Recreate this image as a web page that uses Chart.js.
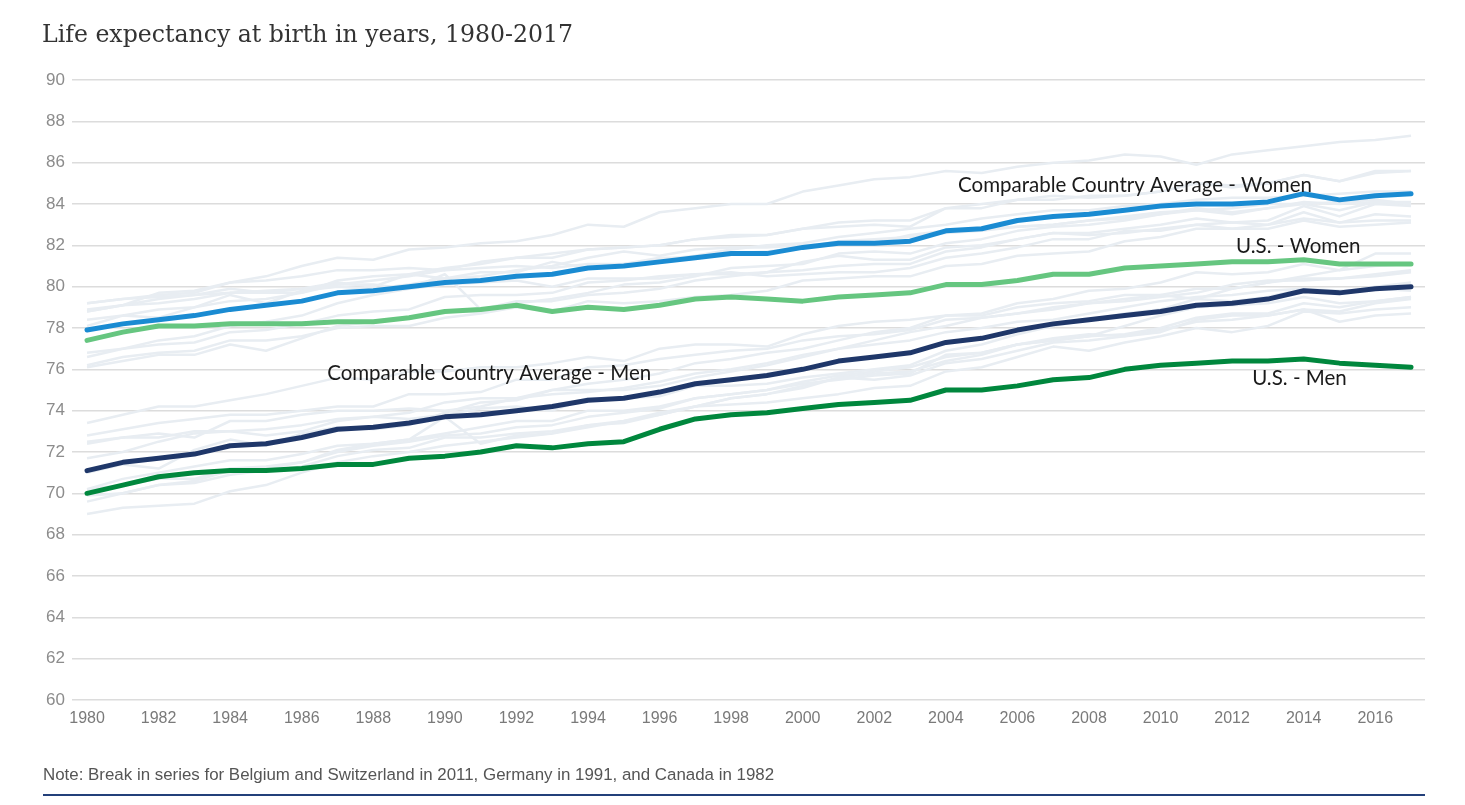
<!DOCTYPE html>
<html>
<head>
<meta charset="utf-8">
<script src="https://cdn.jsdelivr.net/npm/chart.js@4.4.1/dist/chart.umd.min.js"></script>
<style>
  html, body { margin: 0; padding: 0; background: #ffffff; }
  #wrap { position: relative; width: 1465px; height: 805px; overflow: hidden; }
  #chart { position: absolute; left: 0; top: 0; }
  #title { position: absolute; left: 42px; top: 20px; font-family: 'DejaVu Serif', serif; font-size: 23.6px; color: #333333; line-height: 1.2; white-space: nowrap; }
  #note { position: absolute; left: 43px; top: 765px; font-family: 'Liberation Sans', sans-serif; font-size: 16.9px; color: #555555; line-height: 1.2; white-space: nowrap; }
  #rule { position: absolute; left: 43px; top: 794px; width: 1382px; height: 2px; background: #23407a; }
</style>
</head>
<body>
<div id="wrap">
  <canvas id="chart" width="1465" height="805"></canvas>
  <div id="title">Life expectancy at birth in years, 1980-2017</div>
  <div id="note">Note: Break in series for Belgium and Switzerland in 2011, Germany in 1991, and Canada in 1982</div>
  <div id="rule"></div>
</div>
<script>
// ---- Data ----
const years = [1980,1981,1982,1983,1984,1985,1986,1987,1988,1989,1990,1991,1992,1993,1994,1995,1996,1997,1998,1999,2000,2001,2002,2003,2004,2005,2006,2007,2008,2009,2010,2011,2012,2013,2014,2015,2016,2017];
const xTickLabels = [1980,1982,1984,1986,1988,1990,1992,1994,1996,1998,2000,2002,2004,2006,2008,2010,2012,2014,2016];
const yTickLabels = [60,62,64,66,68,70,72,74,76,78,80,82,84,86,88,90];

const comparableWomen = [77.9,78.2,78.4,78.6,78.9, 79.1,79.3,79.7,79.8,80.0, 80.2,80.3,80.5,80.6,80.9, 81.0,81.2,81.4,81.6,81.6, 81.9,82.1,82.1,82.2,82.7, 82.8,83.2,83.4,83.5,83.7, 83.9,84.0,84.0,84.1,84.5, 84.2,84.4,84.5];
const usWomen = [77.4,77.8,78.1,78.1,78.2, 78.2,78.2,78.3,78.3,78.5, 78.8,78.9,79.1,78.8,79.0, 78.9,79.1,79.4,79.5,79.4, 79.3,79.5,79.6,79.7,80.1, 80.1,80.3,80.6,80.6,80.9, 81.0,81.1,81.2,81.2,81.3, 81.1,81.1,81.1];
const comparableMen = [71.1,71.5,71.7,71.9,72.3, 72.4,72.7,73.1,73.2,73.4, 73.7,73.8,74.0,74.2,74.5, 74.6,74.9,75.3,75.5,75.7, 76.0,76.4,76.6,76.8,77.3, 77.5,77.9,78.2,78.4,78.6, 78.8,79.1,79.2,79.4,79.8, 79.7,79.9,80.0];
const usMen = [70.0,70.4,70.8,71.0,71.1, 71.1,71.2,71.4,71.4,71.7, 71.8,72.0,72.3,72.2,72.4, 72.5,73.1,73.6,73.8,73.9, 74.1,74.3,74.4,74.5,75.0, 75.0,75.2,75.5,75.6,76.0, 76.2,76.3,76.4,76.4,76.5, 76.3,76.2,76.1];

// Individual comparable countries (background lines)
const japanWomen = [78.8,79.1,79.7,79.8,80.2, 80.5,81.0,81.4,81.3,81.8, 81.9,82.1,82.2,82.5,83.0, 82.9,83.6,83.8,84.0,84.0, 84.6,84.9,85.2,85.3,85.6, 85.5,85.8,86.0,86.1,86.4, 86.3,85.9,86.4,86.6,86.8, 87.0,87.1,87.3];
const franceWomen = [78.4,78.6,78.9,79.0,79.3, 79.4,79.7,80.3,80.5,80.6, 80.9,81.1,81.4,81.4,81.8, 81.9,82.0,82.3,82.4,82.5, 82.8,82.9,83.0,82.9,83.8, 83.8,84.2,84.4,84.3,84.4, 84.6,85.0,84.8,85.0,85.4, 85.1,85.5,85.6];
const switzerlandWomen = [79.2,79.4,79.6,79.7,80.2, 80.3,80.5,80.8,80.8,80.9, 80.8,81.2,81.4,81.6,81.8, 81.9,82.0,82.3,82.5,82.5, 82.8,83.1,83.2,83.2,83.8, 84.0,84.2,84.2,84.4,84.4, 84.6,85.0,84.9,85.0,85.4, 85.1,85.6,85.6];
const netherlandsWomen = [79.2,79.4,79.5,79.6,79.7, 79.7,79.7,80.1,80.1,79.9, 80.1,80.2,80.3,80.0,80.4, 80.4,80.4,80.6,80.7,80.5, 80.6,80.7,80.7,80.9,81.4, 81.6,81.9,82.3,82.3,82.7, 82.7,83.0,82.8,83.0,83.3, 83.1,83.2,83.2];
const swedenWomen = [78.8,79.1,79.4,79.6,79.9, 79.7,79.9,80.2,80.0,80.6, 80.4,80.5,80.8,81.0,81.4, 81.7,81.5,81.8,81.9,81.9, 82.0,82.1,82.1,82.5,82.7, 82.8,82.9,83.0,83.2,83.3, 83.5,83.7,83.5,83.8,84.1, 84.0,84.1,84.1];
const canadaWomen = [78.9,79.1,79.2,79.4,79.7, 79.8,79.9,80.1,80.3,80.5, 80.8,80.9,81.0,80.9,81.1, 81.1,81.4,81.4,81.6,81.7, 81.9,82.2,82.3,82.4,82.6, 82.7,82.9,83.0,83.2,83.4, 83.6,83.7,83.8,84.0,84.0, 84.1,84.2,84.0];
const australiaWomen = [78.1,78.6,78.5,79.0,79.6, 79.2,79.8,80.0,79.9,80.1, 80.4,80.7,80.7,81.2,80.9, 81.1,81.3,81.5,81.8,82.0, 82.1,82.4,82.6,82.8,83.0, 83.3,83.5,83.7,83.7,83.9, 84.0,84.2,84.3,84.3,84.4, 84.5,84.6,84.6];
const austriaWomen = [76.1,76.4,76.7,76.7,77.2, 76.9,77.5,78.1,78.3,78.5, 78.8,78.8,79.2,79.4,79.7, 80.1,80.2,80.5,80.9,81.0, 81.1,81.6,81.7,81.6,82.1, 82.3,82.7,82.9,83.0,83.2, 83.5,83.8,83.6,83.8,84.0, 83.7,84.1,84.0];
const belgiumWomen = [76.8,77.0,77.2,77.3,77.8, 77.9,78.2,78.6,78.8,78.9, 79.5,79.6,79.6,79.7,80.2, 80.3,80.5,80.6,80.6,80.7, 80.8,81.0,81.1,81.1,81.7, 81.9,82.3,82.6,82.6,82.8, 83.0,83.3,83.1,83.2,83.9, 83.4,84.0,83.9];
const germanyWomen = [76.6,77.0,77.4,77.6,78.1, 78.3,78.6,79.2,79.6,79.9, 80.6,78.9,79.3,79.3,79.6, 79.7,79.9,80.3,80.5,80.7, 81.2,81.5,81.3,81.3,81.9, 82.0,82.3,82.6,82.5,82.6, 82.8,83.0,83.1,83.0,83.6, 83.1,83.5,83.4];
const ukWomen = [76.2,76.6,76.8,76.9,77.4, 77.4,77.6,78.0,78.1,78.1, 78.5,78.7,79.0,78.8,79.3, 79.2,79.3,79.5,79.6,79.8, 80.3,80.4,80.5,80.5,81.0, 81.1,81.5,81.6,81.7,82.2, 82.4,82.8,82.8,82.8,83.2, 82.9,83.0,83.1];

const japanMen = [73.4,73.8,74.2,74.2,74.5, 74.8,75.2,75.6,75.5,75.9, 75.9,76.1,76.1,76.3,76.6, 76.4,77.0,77.2,77.2,77.1, 77.7,78.1,78.3,78.4,78.6, 78.6,79.0,79.2,79.3,79.6, 79.6,79.4,79.9,80.2,80.5, 80.8,81.0,81.1];
const swedenMen = [72.8,73.1,73.4,73.6,73.8, 73.8,74.0,74.2,74.2,74.8, 74.8,74.9,75.5,75.5,76.1, 76.2,76.5,76.7,76.9,77.0, 77.4,77.6,77.7,77.9,78.4, 78.5,78.7,78.9,79.2,79.4, 79.6,79.9,79.9,80.2,80.4, 80.4,80.6,80.8];
const switzerlandMen = [72.4,72.7,72.9,72.7,73.5, 73.5,73.8,74.0,74.0,74.1, 74.0,74.2,74.6,75.0,75.3, 75.5,75.8,76.3,76.5,76.8, 77.0,77.4,77.8,78.0,78.6, 78.7,79.2,79.4,79.8,79.9, 80.2,80.7,80.6,80.7,81.1, 80.8,81.6,81.6];
const netherlandsMen = [72.5,72.7,72.7,73.0,73.0, 72.8,73.0,73.5,73.7,73.6, 73.8,74.1,74.2,74.0,74.6, 74.6,74.7,75.2,75.2,75.3, 75.6,75.8,76.0,76.2,76.9, 77.2,77.7,78.1,78.4,78.7, 78.9,79.4,79.3,79.5,79.9, 79.7,80.0,80.2];
const canadaMen = [71.7,72.0,72.5,72.9,73.0, 73.1,73.3,73.6,73.7,73.9, 74.4,74.6,74.6,74.8,74.9, 75.1,75.4,75.8,76.0,76.3, 76.7,77.0,77.2,77.4,77.8, 78.0,78.3,78.4,78.7,79.0, 79.3,79.5,79.6,79.8,79.9, 79.8,79.9,79.8];
const australiaMen = [71.0,71.4,71.2,72.1,72.6, 72.3,72.9,73.2,73.1,73.3, 73.9,74.4,74.5,75.0,75.0, 75.0,75.2,75.6,75.9,76.2, 76.6,77.0,77.4,77.8,78.1, 78.5,78.7,79.0,79.2,79.3, 79.5,79.7,80.1,80.3,80.3, 80.4,80.5,80.7];
const franceMen = [70.2,70.4,70.7,70.7,71.2, 71.3,71.5,72.0,72.3,72.5, 72.8,72.9,73.2,73.3,73.7, 73.9,74.1,74.6,74.8,75.0, 75.3,75.5,75.7,75.8,76.7, 76.8,77.2,77.4,77.6,77.7, 78.0,78.5,78.7,78.7,79.2, 79.0,79.3,79.5];
const ukMen = [70.2,70.7,71.0,71.3,71.6, 71.6,71.9,72.3,72.4,72.6, 72.9,73.2,73.5,73.5,74.0, 74.0,74.2,74.6,74.8,75.0, 75.4,75.7,75.9,76.1,76.6, 76.8,77.2,77.4,77.6,78.1, 78.6,79.0,79.1,79.2,79.5, 79.2,79.3,79.5];
const austriaMen = [69.0,69.3,69.4,69.5,70.1, 70.4,71.0,71.5,71.8,72.0, 72.3,72.5,72.7,72.9,73.2, 73.5,73.9,74.2,74.6,74.8, 75.2,75.6,75.8,75.9,76.4, 76.7,77.2,77.5,77.7,77.6, 77.9,78.3,78.4,78.6,78.9, 78.8,79.2,79.4];
const belgiumMen = [69.9,70.0,70.4,70.5,70.9, 71.1,71.3,71.8,72.1,72.2, 72.7,72.7,72.9,73.0,73.3, 73.4,73.8,74.2,74.3,74.4, 74.6,74.8,75.1,75.2,75.9, 76.1,76.6,77.1,76.9,77.3, 77.6,78.0,77.8,78.1,78.8, 78.7,78.9,79.0];
const germanyMen = [69.6,70.0,70.4,70.6,71.1, 71.2,71.5,72.1,72.4,72.6, 73.7,72.4,72.8,72.9,73.3, 73.5,73.8,74.2,74.6,74.8, 75.1,75.6,75.5,75.7,76.3, 76.5,76.9,77.3,77.4,77.6, 77.8,78.4,78.6,78.6,78.9, 78.3,78.6,78.7];

const backgroundSeries = [
  japanWomen, franceWomen, switzerlandWomen, netherlandsWomen, swedenWomen, canadaWomen,
  australiaWomen, austriaWomen, belgiumWomen, germanyWomen, ukWomen,
  japanMen, swedenMen, switzerlandMen, netherlandsMen, canadaMen, australiaMen,
  franceMen, ukMen, austriaMen, belgiumMen, germanyMen
];

// ---- Chart ----
const toPoints = vals => years.map((y, i) => ({ x: y, y: vals[i] }));

const mainStyle = color => ({
  borderColor: color, backgroundColor: color, borderWidth: 5,
  pointRadius: 0, pointHoverRadius: 0, tension: 0,
  borderCapStyle: 'round', borderJoinStyle: 'round', fill: false
});

const datasets = [
  Object.assign({ label: 'Comparable Country Average - Women', data: toPoints(comparableWomen) }, mainStyle('#1a8bd2')),
  Object.assign({ label: 'U.S. - Women', data: toPoints(usWomen) }, mainStyle('#66c680')),
  Object.assign({ label: 'Comparable Country Average - Men', data: toPoints(comparableMen) }, mainStyle('#1f3769')),
  Object.assign({ label: 'U.S. - Men', data: toPoints(usMen) }, mainStyle('#00873d'))
];
backgroundSeries.forEach((vals, i) => {
  datasets.push({
    label: 'country ' + i, data: toPoints(vals),
    borderColor: '#e8edf2', borderWidth: 2.5, pointRadius: 0, pointHoverRadius: 0,
    tension: 0, fill: false, borderJoinStyle: 'round'
  });
});

const annotations = [
  { text: 'Comparable Country Average - Women', x: 2004.34, y: 84.92 },
  { text: 'U.S. - Women', x: 2012.11, y: 81.96 },
  { text: 'Comparable Country Average - Men', x: 1986.71, y: 75.82 },
  { text: 'U.S. - Men', x: 2012.56, y: 75.58 }
];

const labelPlugin = {
  id: 'seriesLabels',
  afterDatasetsDraw(chart) {
    const ctx = chart.ctx;
    const xs = chart.scales.x, ys = chart.scales.y;
    ctx.save();
    ctx.font = '20.5px Lato, "Open Sans", sans-serif';
    ctx.fillStyle = '#1a1a1a';
    ctx.textBaseline = 'middle';
    ctx.textAlign = 'left';
    annotations.forEach(a => {
      ctx.fillText(a.text, xs.getPixelForValue(a.x), ys.getPixelForValue(a.y));
    });
    ctx.restore();
  }
};

new Chart(document.getElementById('chart'), {
  type: 'line',
  data: { datasets },
  options: {
    responsive: false,
    animation: false,
    events: [],
    layout: { padding: { top: 80, right: 40, bottom: 75, left: 0 } },
    plugins: { legend: { display: false }, tooltip: { enabled: false }, title: { display: false } },
    scales: {
      x: {
        type: 'linear',
        min: 1979.58, max: 2017.39,
        afterBuildTicks: s => { s.ticks = xTickLabels.map(v => ({ value: v })); },
        afterFit: s => { s.height = 30; },
        grid: { display: false, drawTicks: false },
        border: { display: false },
        ticks: {
          autoSkip: false, maxRotation: 0, padding: 9,
          color: '#7a7a7a',
          font: { family: '"Liberation Sans", sans-serif', size: 16 },
          callback: v => String(v)
        }
      },
      y: {
        type: 'linear',
        min: 60, max: 90,
        afterBuildTicks: s => { s.ticks = yTickLabels.map(v => ({ value: v })); },
        afterFit: s => { s.width = 72; },
        grid: { color: '#dcdcdc', lineWidth: 1.5, drawTicks: false },
        border: { display: false },
        ticks: {
          padding: 7,
          color: '#8c8c8c',
          font: { family: '"Liberation Sans", sans-serif', size: 17 },
          callback: v => String(v)
        }
      }
    }
  },
  plugins: [labelPlugin]
});
</script>
</body>
</html>
